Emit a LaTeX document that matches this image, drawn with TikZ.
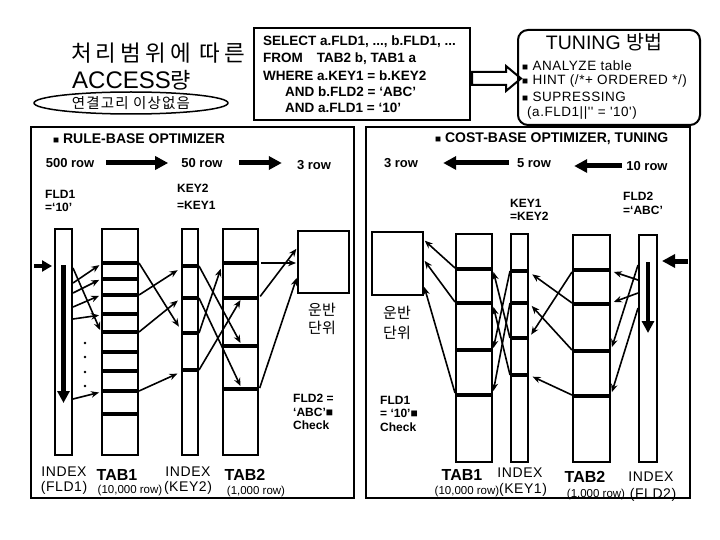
\documentclass[tikz,border=0pt]{standalone}
\usepackage{fontspec}
\setmainfont{Liberation Sans}
\newfontfamily\kr{Noto Sans CJK KR}
\newfontfamily\krw[LetterSpace=18]{Noto Sans CJK KR}
\newfontfamily\krs[LetterSpace=8]{Noto Sans CJK KR}
\newfontfamily\straight[LetterSpace=4]{Liberation Sans}
\newfontfamily\lsans[LetterSpace=4,Ligatures=TeX]{Liberation Sans}
\usetikzlibrary{arrows.meta,shapes.geometric}
\newcommand\tbars[2]{\foreach \yy in {#2}{\draw[barline] (#1.west |- 0,\yy) -- (#1.east |- 0,\yy);}}
\newcommand\blt{{\fontsize{10}{10}\selectfont ■}}
\begin{document}
\begin{tikzpicture}[x=1pt,y=-1pt,
  tb/.style={draw,line width=2pt,inner sep=0pt},
  panel/.style={draw,line width=2.5pt,inner sep=0pt},
  barline/.style={line width=4pt},
  arr/.style={line width=1.6pt,-{Stealth[length=8pt,width=6.5pt]}},
  bigarr/.style={line width=5pt,-{Triangle[length=13pt,width=13pt]}},
  downarr/.style={line width=4.5pt,-{Triangle[length=12pt,width=12pt]}},
  entarr/.style={line width=4pt,-{Triangle[length=10pt,width=11pt]}},
  rowt/.style={inner sep=0pt,font=\bfseries\fontsize{13}{13}\selectfont},
  lab/.style={inner sep=0pt,anchor=north west,align=left,font=\bfseries\fontsize{12}{13.5}\selectfont},
  hdr/.style={inner sep=0pt,anchor=west,font=\bfseries\fontsize{14}{14}\selectfont},
  sql/.style={inner sep=0pt,anchor=west,font=\bfseries\fontsize{13.5}{13.5}\selectfont},
  itm/.style={inner sep=0pt,anchor=west,font=\lsans\fontsize{13.5}{13.5}\selectfont},
  idx/.style={inner sep=0pt,font=\lsans\fontsize{14}{14}\selectfont},
  tabn/.style={inner sep=0pt,font=\bfseries\fontsize{16}{16}\selectfont},
  rowsz/.style={inner sep=0pt,font=\fontsize{11.5}{11.5}\selectfont},
  unit/.style={inner sep=0pt,align=center,font=\kr\fontsize{15}{18}\selectfont}]
\useasboundingbox (0,0) rectangle (720,540);
\fill[white] (0,0) rectangle (720,540);

% ---- title area
\node[anchor=west,inner sep=0pt] (t1) at (71,53) {\krw\fontsize{22.5}{22.5}\selectfont 처리범위에 따른};
\node[anchor=west,inner sep=0pt] (t2) at (72,80) {\fontsize{24}{24}\selectfont ACCESS{\kr\fontsize{22}{22}\selectfont 량}};
\node[draw,ellipse,line width=1.5pt,minimum width=194pt,minimum height=22pt,inner sep=0pt] (ell) at (131,103) {\krs\fontsize{14.5}{14.5}\selectfont 연결고리 이상없음};

% ---- SQL box
\node[tb,minimum width=216pt,minimum height=92pt] (sqlbox) at (362,74) {};
\node[sql] (s1) at (263,42) {SELECT a.FLD1, ..., b.FLD1, ...};
\node[sql] (s2) at (263,58.5) {FROM\hspace{14pt}TAB2 b, TAB1 a};
\node[sql] (s3) at (263,75.5) {WHERE a.KEY1 = b.KEY2};
\node[sql] (s4) at (285,92) {AND b.FLD2 = ‘ABC’};
\node[sql] (s5) at (285,108) {AND a.FLD1 = ‘10’};

% ---- hollow arrow
\draw[line width=2pt,fill=white] (472,72) -- (506,72) -- (506,66) -- (521,78.5) -- (506,91) -- (506,85) -- (472,85) -- cycle;

% ---- tuning box
\node[tb,rounded corners=10pt,minimum width=182pt,minimum height=95pt] (tbox) at (609,77.5) {};
\node[inner sep=0pt] (tt) at (604,42) {\fontsize{19.5}{19.5}\selectfont TUNING {\kr 방법}};
\node[itm] (i1) at (522,66) {\blt\ ANALYZE table};
\node[itm] (i2) at (522,81) {\blt\ HINT (/*+ ORDERED */)};
\node[itm] (i3) at (522,97) {\blt\ SUPRESSING};
\node[itm] (i4) at (527,113) {\straight (a.FLD1||'' = '10')};

% ---- panels
\node[panel,minimum width=323pt,minimum height=371pt] (pL) at (192.5,312.5) {};
\node[panel,minimum width=324pt,minimum height=371pt] (pR) at (528,312.5) {};
\node[hdr] (hL) at (53,139) {\blt\ RULE-BASE OPTIMIZER};
\node[hdr] (hR) at (435,139) {\blt\ COST-BASE OPTIMIZER, TUNING};

% ---- row counts
\node[rowt] (r500) at (70,163) {500 row};
\node[rowt] (r50) at (202,163) {50 row};
\node[rowt] (r3L) at (314,165) {3 row};
\node[rowt] (r3R) at (401,163) {3 row};
\node[rowt] (r5) at (534,163) {5 row};
\node[rowt] (r10) at (647,166) {10 row};
\draw[bigarr,shorten <=12pt,shorten >=13pt] (r500.east) -- (r50.west);
\draw[bigarr,shorten <=16pt,shorten >=15pt] (r50.east) -- (r50.east -| r3L.west);
\draw[bigarr,shorten <=8pt,shorten >=25pt] (r5.west) -- (r3R.east);
\draw[bigarr,shorten <=4pt,shorten >=23pt] (r10.west) -- (r10.west -| r5.east);

% ---- condition labels
\node[lab] (cL1) at (45,190) {FLD1\\=‘10’};
\node[lab] (cL2) at (177,184) {KEY2\\[3pt]=KEY1};
\node[lab] (cR1) at (510,199) {KEY1\\=KEY2};
\node[lab] (cR2) at (623,192) {FLD2\\=‘ABC’};

% ---- left tables
\node[tb,minimum width=17pt,minimum height=226pt] (LI1) at (63.5,342) {};
\node[tb,minimum width=36pt,minimum height=226pt] (LT1) at (120,342) {};
\node[tb,minimum width=16pt,minimum height=226pt] (LI2) at (190,342) {};
\node[tb,minimum width=35pt,minimum height=226pt] (LT2) at (240.5,342) {};
\node[tb,minimum width=51pt,minimum height=62pt] (LB) at (323.5,262) {};
\tbars{LT1}{263,279,295,314,332,352,371,391,414}
\tbars{LT2}{263,298,346,389}
\tbars{LI2}{266,298,333,370}

% ---- right tables
\node[tb,minimum width=51pt,minimum height=63pt] (RB) at (397.5,263.5) {};
\node[tb,minimum width=36pt,minimum height=228pt] (RT1) at (474,347.5) {};
\node[tb,minimum width=17pt,minimum height=228pt] (RI1) at (519.5,347.5) {};
\node[tb,minimum width=37pt,minimum height=227pt] (RT2) at (591.5,348.5) {};
\node[tb,minimum width=18pt,minimum height=227pt] (RI2) at (648,348.5) {};
\tbars{RT1}{269,303,350,395}
\tbars{RI1}{271,303,338,375}
\tbars{RT2}{270,304,351,396}

% ---- transport unit labels
\node[unit] (uL) at (322,319) {운반\\단위};
\node[unit,font=\kr\fontsize{15}{20}\selectfont] (uR) at (397,323) {운반\\단위};
\node[lab] (chL) at (293,394) {FLD2 =\\‘ABC’■\\Check};
\node[lab] (chR) at (380,396) {FLD1\\= ‘10’■\\Check};

% ---- entry and scan arrows
\coordinate (inL) at (34,266);
\coordinate (inR) at (688,261);
\draw[entarr,shorten >=2pt] (inL) -- (LI1.west |- 0,266);
\draw[bigarr,shorten >=4pt] (inR) -- (RI2.east |- 0,261);
\draw[downarr] (LI1.center |- 0,265) -- (LI1.center |- 0,403);
\draw[downarr] (RI2.center |- 0,262) -- (RI2.center |- 0,333);

% dots
\foreach \yy in {343,357,372,386} \fill (85,\yy) circle (1.3pt);

% ---- left arrows: index FLD1 -> TAB1
\draw[arr,shorten >=2pt] (LI1.east |- 0,283) -- (LT1.west |- 0,264);
\draw[arr,shorten >=2pt] (LI1.east |- 0,293) -- (LT1.west |- 0,279);
\draw[arr,shorten >=2pt] (LI1.east |- 0,307) -- (LT1.west |- 0,295);
\draw[arr,shorten >=2pt] (LI1.east |- 0,319) -- (LT1.west |- 0,315);
\draw[arr,shorten >=2pt] (LI1.east |- 0,268) -- (LT1.west |- 0,332);
\draw[arr,shorten >=2pt] (LI1.east |- 0,399) -- (LT1.west |- 0,392);
% TAB1 -> index KEY2
\draw[arr,shorten >=4pt] (LT1.east |- 0,263) -- (LI2.west |- 0,330);
\draw[arr,shorten >=4pt] (LT1.east |- 0,295) -- (LI2.west |- 0,268);
\draw[arr,shorten >=4pt] (LT1.east |- 0,332) -- (LI2.west |- 0,298);
\draw[arr,shorten >=4pt] (LT1.east |- 0,391) -- (LI2.west |- 0,372);
% index KEY2 -> TAB2
\draw[arr] (LI2.east |- 0,266) -- (LT2.center |- 0,343);
\draw[arr] (LI2.east |- 0,298) -- (LT2.center |- 0,386);
\draw[arr,shorten >=4pt] (LI2.east |- 0,333) -- (LT2.west |- 0,265);
\draw[arr] (LI2.east |- 0,370) -- (LT2.center |- 0,300);
% TAB2 -> unit
\draw[arr,shorten <=2pt,shorten >=1pt] (LT2.east |- 0,263) -- (LB.west |- 0,263);
\draw[arr,shorten <=2pt,shorten >=1pt] (LT2.east |- 0,298) -- (LB.west |- 0,248);
\draw[arr,shorten <=2pt,shorten >=1pt] (LT2.east |- 0,390) -- (LB.west |- 0,277);

% ---- right arrows: index FLD2 -> TAB2
\draw[arr,shorten >=3pt] (RI2.west |- 0,280) -- (RT2.east |- 0,271);
\draw[arr,shorten >=3pt] (RI2.west |- 0,293) -- (RT2.east |- 0,303);
\draw[arr,shorten >=3pt] (RI2.west |- 0,265) -- (RT2.east |- 0,350);
\draw[arr,shorten >=3pt] (RI2.west |- 0,308) -- (RT2.east |- 0,395);
% TAB2 -> index KEY1
\draw[arr,shorten >=4pt] (RT2.west |- 0,272) -- (RI1.east |- 0,338);
\draw[arr,shorten >=4pt] (RT2.west |- 0,303) -- (RI1.east |- 0,272);
\draw[arr,shorten >=4pt] (RT2.west |- 0,350) -- (RI1.east |- 0,303);
\draw[arr,shorten >=4pt] (RT2.west |- 0,395) -- (RI1.east |- 0,375);
% index KEY1 -> TAB1
\draw[arr,shorten >=2pt] (RI1.west |- 0,271) -- (RT1.east |- 0,350);
\draw[arr,shorten >=2pt] (RI1.west |- 0,303) -- (RT1.east |- 0,393);
\draw[arr,shorten >=2pt] (RI1.west |- 0,338) -- (RT1.east |- 0,270);
\draw[arr,shorten >=2pt] (RI1.west |- 0,375) -- (RT1.east |- 0,305);
% TAB1 -> unit
\draw[arr,shorten >=1pt] (RT1.west |- 0,268) -- (RB.east |- 0,240);
\draw[arr,shorten >=1pt] (RT1.west |- 0,302) -- (RB.east |- 0,260);
\draw[arr,shorten >=1pt] (RT1.west |- 0,393) -- (RB.east |- 0,286);

% ---- bottom captions left
\node[idx] (bL1) at (64,472) {INDEX};
\node[idx] (bL1b) at (64,488) {(FLD1)};
\node[tabn] (bL2) at (117,475) {TAB1};
\node[rowsz] (bL2b) at (130,491) {(10,000 row)};
\node[idx] (bL3) at (188,472) {INDEX};
\node[idx] (bL3b) at (188,488) {(KEY2)};
\node[tabn] (bL4) at (245,475) {TAB2};
\node[rowsz] (bL4b) at (256,492) {(1,000 row)};
% ---- bottom captions right
\node[tabn] (bR1) at (462,475) {TAB1};
\node[rowsz] (bR1b) at (467,492) {(10,000 row)};
\node[idx] (bR2) at (520,473) {INDEX};
\node[idx] (bR2b) at (523,490) {(KEY1)};
\node[tabn] (bR3) at (585,477) {TAB2};
\node[rowsz] (bR3b) at (596,495) {(1,000 row)};
\node[idx] (bR4) at (651,477) {INDEX};
\node[idx] (bR4b) at (653,495) {(FLD2)};
\end{tikzpicture}
\end{document}
